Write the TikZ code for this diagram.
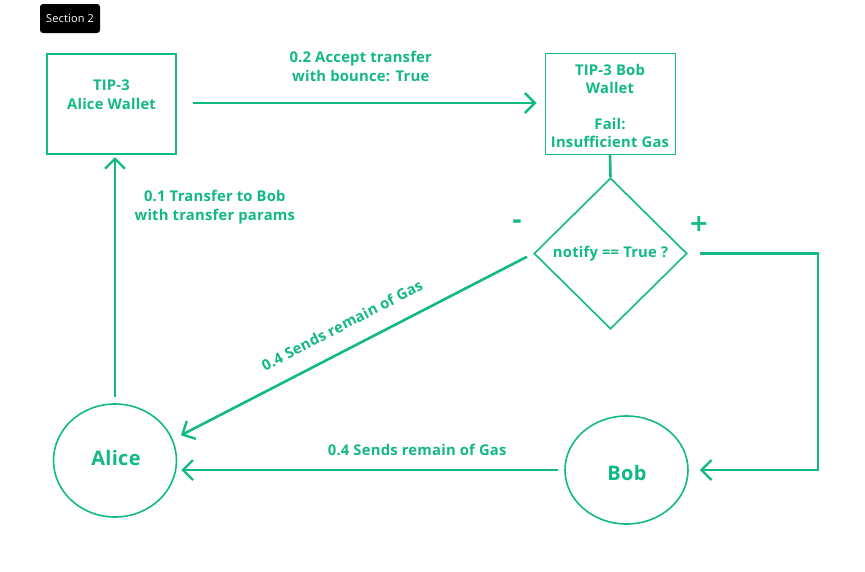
\documentclass[tikz,border=0pt]{standalone}
\usepackage{fontspec}
\setmainfont{Open Sans}[LetterSpace=1.5]
\newfontfamily\signfont{DejaVu Sans}
\usetikzlibrary{shapes.geometric,arrows.meta}
\definecolor{grn}{RGB}{18,184,134}
\begin{document}
\begin{tikzpicture}[x=1pt,y=-1pt,
  every node/.style={font=\bfseries\fontsize{14.8}{18.5}\selectfont, text=grn, align=center},
  box/.style={draw=grn, inner sep=0pt},
  ell/.style={draw=grn, ellipse, line width=1.6pt, inner sep=0pt},
  arr/.style={draw=grn, line width=2.6pt, -{Straight Barb[length=10pt,width=20pt,line width=2.4pt]}},
  ln/.style={draw=grn, line width=2.6pt},
  sign/.style={font=\signfont\bfseries\fontsize{24}{24}\selectfont}]
\useasboundingbox (0,0) rectangle (865,571);
% section tag
\node[fill=black, rounded corners=3pt, minimum width=60pt, minimum height=29pt, inner sep=0pt,
      font=\fontsize{11}{12}\selectfont, text=white] (sec) at (70,18.5) {Section 2};
% boxes
\node[box, line width=2pt, minimum width=129pt, minimum height=100pt] (aw) at (111.5,104) {};
\node (awt) at (111.5,94.5) {TIP-3\\Alice Wallet};
\node[box, line width=1pt, minimum width=130pt, minimum height=101pt] (bw) at (610,103.5) {};
\node (bwt) at (610,106) {TIP-3 Bob\\Wallet\\[17pt]Fail:\\Insufficient Gas};
% diamond
\node[draw=grn, diamond, line width=1.6pt, minimum width=153pt, minimum height=151pt, inner sep=0pt, aspect=1]
  (dm) at (610.5,253.5) {notify == True ?};
% ellipses
\node[ell, minimum width=123pt, minimum height=113pt] (alice) at (115,460.5) {};
\node[font=\bfseries\fontsize{20}{20}\selectfont] (alicet) at (116,458) {Alice};
\node[ell, minimum width=123pt, minimum height=108pt] (bob) at (626.5,470) {};
\node[font=\bfseries\fontsize{20}{20}\selectfont] (bobt) at (627,472.5) {Bob};
% signs
\node[sign] (minus) at (517,224) {-};
\node[sign] (plus) at (699,224) {+};
% connectors
\draw[arr, shorten <=16pt, shorten >=8pt] (aw.east |- 0,103) -- (bw.west |- 0,103)
  node[midway, above=17pt] (l02) {0.2 Accept transfer\\with bounce: True};
\draw[ln] (bw.south) -- (dm.north);
\draw[arr, shorten <=6pt, shorten >=2pt] (alice.north) -- (alice.north |- aw.south)
  node[pos=0.79, right=15pt] (l01) {0.1 Transfer to Bob\\with transfer params};
\draw[arr, shorten <=7pt, shorten >=9pt] (dm.west) -- (alice.20)
  node[midway, sloped, yshift=24pt] (l04a) {0.4 Sends remain of Gas};
\draw[arr, shorten <=6pt, shorten >=4pt] (bob.west) -- (alice.east |- bob.west)
  node[pos=0.38, above=10pt] (l04b) {0.4 Sends remain of Gas};
\coordinate (corner) at (818,470);
\draw[arr, shorten <=12pt, shorten >=11pt] (dm.east) -| (corner) -- (bob.east);
\end{tikzpicture}
\end{document}
